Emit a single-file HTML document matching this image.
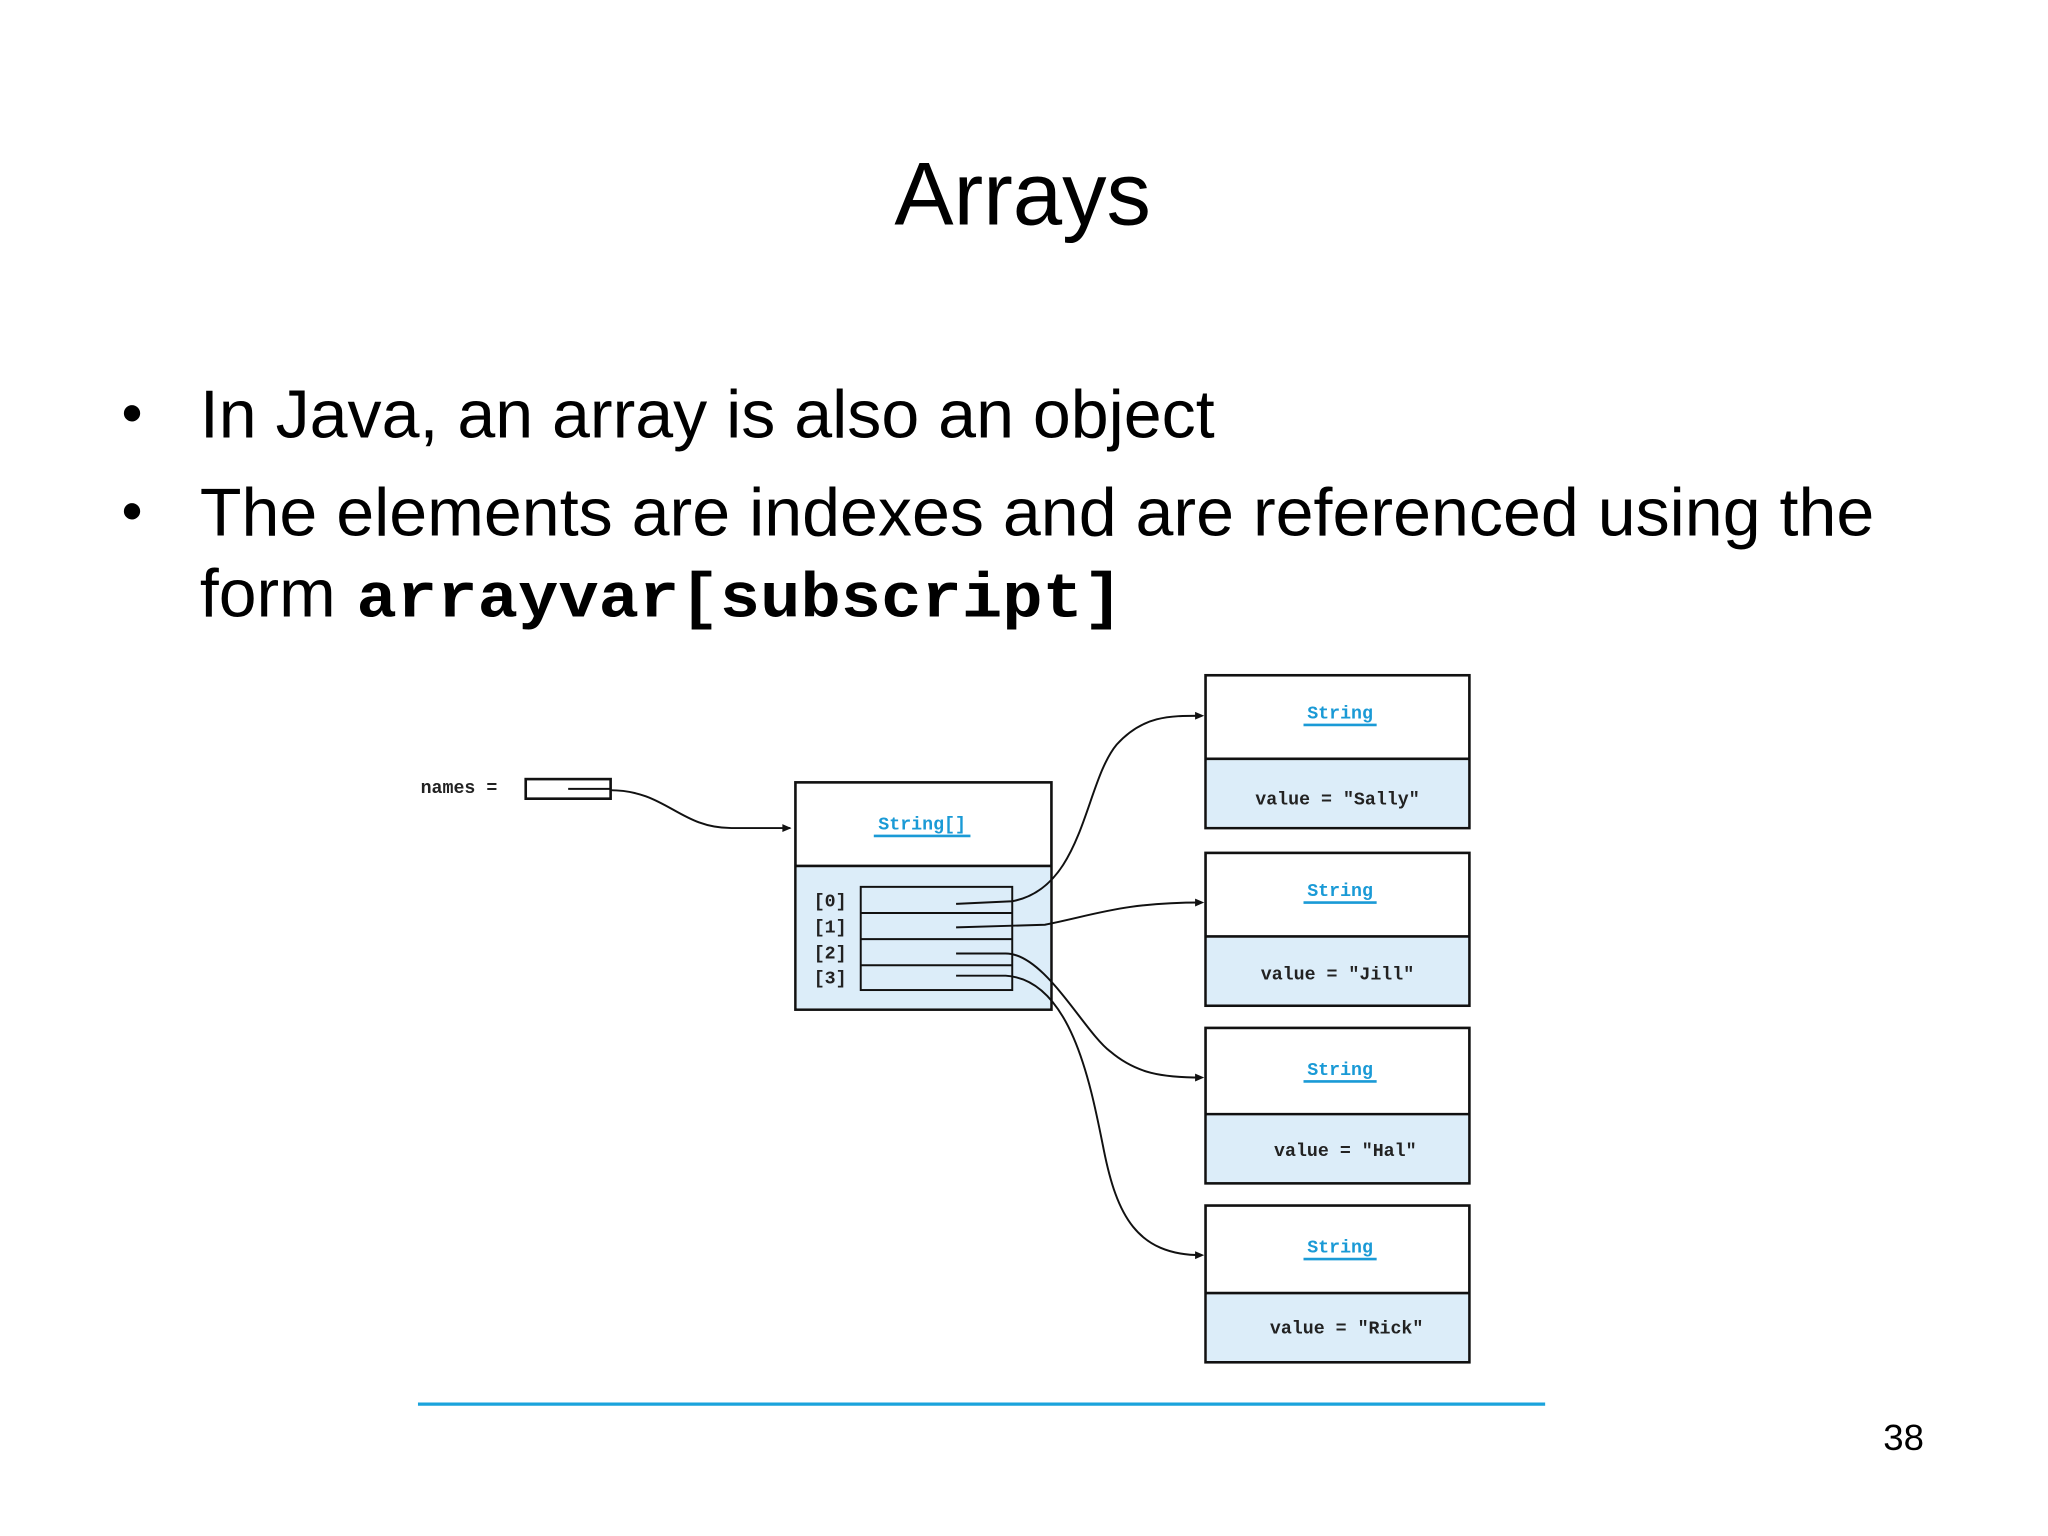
<!DOCTYPE html>
<html><head><meta charset="utf-8"><style>
html,body{margin:0;padding:0;background:#fff;}
svg{display:block;}
</style></head><body>
<svg width="2048" height="1536" viewBox="0 0 1568 1176" xmlns="http://www.w3.org/2000/svg">
<rect width="1568" height="1176" fill="#fff"/>
<text x="783" y="172" font-family="Liberation Sans, sans-serif" font-size="68" text-anchor="middle" fill="#000">Arrays</text>
<g font-family="Liberation Sans, sans-serif" font-size="52" fill="#000">
<text x="93" y="332" font-size="46">•</text>
<text x="153" y="335" textLength="777" lengthAdjust="spacingAndGlyphs">In Java, an array is also an object</text>
<text x="93" y="407" font-size="46">•</text>
<text x="153" y="410" textLength="1282" lengthAdjust="spacingAndGlyphs">The elements are indexes and are referenced using the</text>
<text x="153" y="472">form</text>
<text x="273" y="472" font-family="Liberation Mono, monospace" font-weight="bold" font-size="48" textLength="587" lengthAdjust="spacingAndGlyphs">arrayvar[subscript]</text>
</g>
<text x="1473" y="1110" font-family="Liberation Sans, sans-serif" font-size="28" text-anchor="end">38</text>
<line x1="320" y1="1075" x2="1183" y2="1075" stroke="#1aa3dc" stroke-width="2.5"/>

<g font-family="Liberation Mono, monospace" font-size="14" font-weight="bold">
<text x="322" y="607" fill="#222">names =</text>
<rect x="402.5" y="596.5" width="65" height="15" fill="#fff" stroke="#111" stroke-width="2"/>
<line x1="435" y1="604" x2="467" y2="604" stroke="#111" stroke-width="1.5"/>
<path d="M467,605 C510,605 520,634 560,634 L605,634" fill="none" stroke="#111" stroke-width="1.5"/>

<rect x="609" y="599" width="196" height="174" fill="#fff" stroke="#111" stroke-width="2"/>
<rect x="610" y="664" width="194" height="108" fill="#dcedf9"/>
<line x1="609" y1="663" x2="805" y2="663" stroke="#111" stroke-width="2"/>
<text x="706" y="635" fill="#1a9ad6" text-anchor="middle">String[]</text>
<line x1="669" y1="640" x2="743" y2="640" stroke="#1a9ad6" stroke-width="2"/>
<rect x="659" y="679" width="116" height="79" fill="none" stroke="#111" stroke-width="1.5"/>
<line x1="659" y1="699" x2="775" y2="699" stroke="#111" stroke-width="1.5"/>
<line x1="659" y1="719" x2="775" y2="719" stroke="#111" stroke-width="1.5"/>
<line x1="659" y1="739" x2="775" y2="739" stroke="#111" stroke-width="1.5"/>
<g fill="#222"><text x="623" y="694">[0]</text><text x="623" y="714">[1]</text><text x="623" y="734">[2]</text><text x="623" y="753">[3]</text></g>
<g fill="none" stroke="#111" stroke-width="1.5">
<path d="M732,692 L775,690 C830,680 830,600 855,570 C875,548 895,548 920,548"/>
<path d="M732,710 L800,708 C840,700 860,691 920,691"/>
<path d="M732,730 L770,730 C800,730 830,790 850,805 C870,822 890,825 920,825"/>
<path d="M732,747 L770,747 C820,750 835,830 845,880 C855,930 870,961 920,961"/>
</g>

<g>
<rect x="923" y="517" width="202" height="117" fill="#fff" stroke="#111" stroke-width="2"/>
<rect x="924" y="582" width="200" height="51" fill="#dcedf9"/>
<line x1="923" y1="581" x2="1125" y2="581" stroke="#111" stroke-width="2"/>
<text x="1026" y="550" fill="#1a9ad6" text-anchor="middle">String</text>
<line x1="998" y1="555" x2="1054" y2="555" stroke="#1a9ad6" stroke-width="2"/>
<text x="1024" y="616" fill="#222" text-anchor="middle">value = "Sally"</text>
</g>
<g>
<rect x="923" y="653" width="202" height="117" fill="#fff" stroke="#111" stroke-width="2"/>
<rect x="924" y="718" width="200" height="51" fill="#dcedf9"/>
<line x1="923" y1="717" x2="1125" y2="717" stroke="#111" stroke-width="2"/>
<text x="1026" y="686" fill="#1a9ad6" text-anchor="middle">String</text>
<line x1="998" y1="691" x2="1054" y2="691" stroke="#1a9ad6" stroke-width="2"/>
<text x="1024" y="750" fill="#222" text-anchor="middle">value = "Jill"</text>
</g>
<g>
<rect x="923" y="787" width="202" height="119" fill="#fff" stroke="#111" stroke-width="2"/>
<rect x="924" y="854" width="200" height="51" fill="#dcedf9"/>
<line x1="923" y1="853" x2="1125" y2="853" stroke="#111" stroke-width="2"/>
<text x="1026" y="823" fill="#1a9ad6" text-anchor="middle">String</text>
<line x1="998" y1="828" x2="1054" y2="828" stroke="#1a9ad6" stroke-width="2"/>
<text x="1030" y="885" fill="#222" text-anchor="middle">value = "Hal"</text>
</g>
<g>
<rect x="923" y="923" width="202" height="120" fill="#fff" stroke="#111" stroke-width="2"/>
<rect x="924" y="991" width="200" height="51" fill="#dcedf9"/>
<line x1="923" y1="990" x2="1125" y2="990" stroke="#111" stroke-width="2"/>
<text x="1026" y="959" fill="#1a9ad6" text-anchor="middle">String</text>
<line x1="998" y1="964" x2="1054" y2="964" stroke="#1a9ad6" stroke-width="2"/>
<text x="1031" y="1021" fill="#222" text-anchor="middle">value = "Rick"</text>
</g>
<g fill="#111">
<path d="M606,634 l-7,-3 v6z"/>
<path d="M922,548 l-7,-3 v6z"/>
<path d="M922,691 l-7,-3 v6z"/>
<path d="M922,825 l-7,-3 v6z"/>
<path d="M922,961 l-7,-3 v6z"/>
</g>
</g>
</svg>
</body></html>
